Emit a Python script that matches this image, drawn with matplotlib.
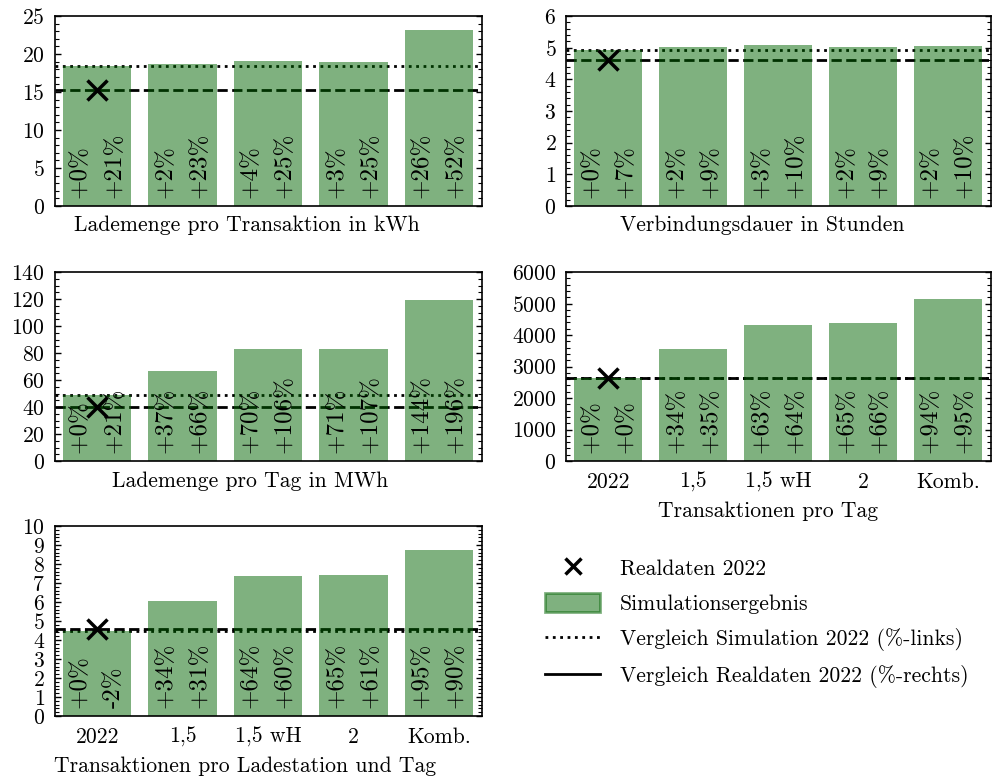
import numpy as np
import matplotlib
matplotlib.use("Agg")
import matplotlib.pyplot as plt
import matplotlib.transforms as mtransforms
from matplotlib.ticker import AutoMinorLocator, MultipleLocator
from matplotlib.lines import Line2D
from matplotlib.patches import Patch

# Scenario names shown on the x axis
scenarios = ["2022", "1,5", "1,5 wH", "2", "Komb."]

# Simulation results per scenario and the measured 2022 reference value
energy_per_tx = [18.4, 18.7, 19.05, 18.95, 23.15]
energy_per_tx_real = 15.2

duration = [4.93, 5.03, 5.07, 5.03, 5.045]
duration_real = 4.6

energy_per_day = [48.7, 66.7, 82.8, 83.2, 118.9]
energy_per_day_real = 40.2

tx_per_day = [2650, 3555, 4325, 4375, 5145]
tx_per_day_real = 2640

tx_per_station = [4.5, 6.03, 7.37, 7.41, 8.76]
tx_per_station_real = 4.6

FS = 15.6
PCT_FS = 18
plt.rcParams.update({
    "font.family": "serif",
    "font.serif": ["cmr10"],
    "mathtext.fontset": "cm",
    "axes.formatter.use_mathtext": True,
    "font.size": FS,
    "axes.linewidth": 1.2,
})

BAR_COLOR = "darkgreen"
BAR_ALPHA = 0.5

W, H = 992, 780
fig = plt.figure(figsize=(W / 100, H / 100), dpi=100)


def rect(x0, y0, x1, y1):
    return [x0 / W, 1 - y1 / H, (x1 - x0) / W, (y1 - y0) / H]


def panel(r, sim, real, xlabel, ymax, ystep, show_xticks, label_xy):
    ax = fig.add_axes(r)
    x = np.arange(len(sim))
    ax.axhline(sim[0], color="k", ls=":", lw=2, zorder=1)
    ax.axhline(real, color="k", ls="--", lw=2, zorder=1)
    ax.bar(x, sim, width=0.8, color=BAR_COLOR, alpha=BAR_ALPHA, lw=0, zorder=2)
    ax.plot([x[0]], [real], ls="none", marker="x", color="k", ms=15, mew=2.5, zorder=4)

    # relative change against the 2022 simulation (left) and the real data (right)
    trans = mtransforms.blended_transform_factory(ax.transData, ax.transAxes)
    for xi, v in zip(x, sim):
        for dx, ref in ((-0.2, sim[0]), (0.2, real)):
            pct = (v / ref - 1) * 100
            ax.text(xi + dx, 0.04, f"{pct:+.0f}%", rotation=90, ha="center",
                    va="bottom", transform=trans, zorder=5, fontsize=PCT_FS)

    ax.set_xlim(-0.5, 4.5)
    ax.set_ylim(0, ymax)
    ax.yaxis.set_major_locator(MultipleLocator(ystep))
    ax.yaxis.set_minor_locator(AutoMinorLocator())
    ax.tick_params(axis="y", which="both", direction="in", left=True, right=True, pad=7)
    ax.tick_params(axis="y", which="major", length=4.5, width=1)
    ax.tick_params(axis="y", which="minor", length=3, width=0.8)
    ax.set_xticks(x)
    ax.tick_params(axis="x", which="both", length=0, pad=8)
    if show_xticks:
        ax.set_xticklabels(scenarios)
    else:
        ax.set_xticklabels([])
    ax.set_xlabel(xlabel)
    ax.xaxis.set_label_coords(*label_xy)
    return ax


panel(rect(54.5, 16, 481.5, 206), energy_per_tx, energy_per_tx_real,
      "Lademenge pro Transaktion in kWh", 25, 5, False, (0.450, -0.052))
panel(rect(566, 16, 990.5, 206), duration, duration_real,
      "Verbindungsdauer in Stunden", 6, 1, False, (0.462, -0.052))
panel(rect(54.5, 272, 481.5, 461), energy_per_day, energy_per_day_real,
      "Lademenge pro Tag in MWh", 140, 20, False, (0.459, -0.054))
panel(rect(566, 272, 990.5, 461), tx_per_day, tx_per_day_real,
      "Transaktionen pro Tag", 6000, 1000, True, (0.476, -0.213))
panel(rect(54.5, 526, 481.5, 716), tx_per_station, tx_per_station_real,
      "Transaktionen pro Ladestation und Tag", 10, 1, True, (0.446, -0.211))

handles = [
    Line2D([], [], ls="none", marker="x", color="k", ms=11, mew=2.5),
    Patch(facecolor=BAR_COLOR, edgecolor=BAR_COLOR, alpha=BAR_ALPHA, lw=2),
    Line2D([], [], color="k", ls=":", lw=2),
    Line2D([], [], color="k", ls="-", lw=2),
]
labels = [
    "Realdaten 2022",
    "Simulationsergebnis",
    "Vergleich Simulation 2022 (%-links)",
    "Vergleich Realdaten 2022 (%-rechts)",
]
fig.legend(handles, labels, loc="upper left", bbox_to_anchor=(545 / W, 1 - 558 / H),
           frameon=False, borderaxespad=0, borderpad=0, handlelength=2.55,
           handleheight=0.95, handletextpad=0.9, labelspacing=0.66)

fig.savefig("out.png", dpi=100)
